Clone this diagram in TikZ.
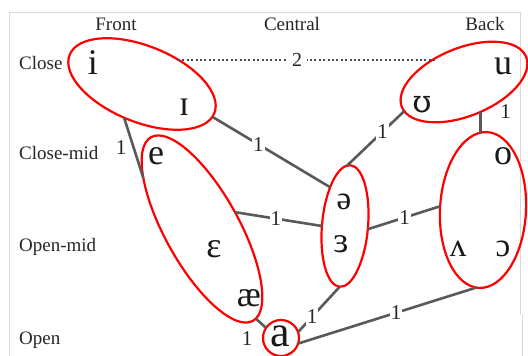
\documentclass[tikz,border=0pt]{standalone}
\usepackage{fontspec}
\setmainfont{Liberation Serif}
\newfontfamily\ipaalt{DejaVu Serif}
\usetikzlibrary{shapes.geometric}
\begin{document}
\begin{tikzpicture}[x=1pt,y=1pt,
  ring/.style={ellipse, draw=red, line width=2.2pt, inner sep=0pt, outer sep=0pt},
  link/.style={draw=black!65, line width=2.6pt},
  dotline/.style={draw=black!70, line width=2pt, dash pattern=on 2pt off 2.4pt},
  num/.style={font=\fontsize{21}{21}\selectfont, fill=white, inner sep=1pt, text=black!85},
  axislbl/.style={font=\fontsize{19}{19}\selectfont, text=black!85, inner sep=0pt},
  vow/.style={font=\fontsize{36}{36}\selectfont, inner sep=0pt, anchor=base, text=black!90},
  frame/.style={draw=black!15, line width=1pt},
]
\useasboundingbox (0,0) rectangle (528,356);
\fill[white] (0,0) rectangle (528,356);
% faint frame
\coordinate (f1) at (9,0);
\coordinate (f2) at (9,343);
\coordinate (f3) at (520,343);
\coordinate (f4) at (520,41);
\coordinate (f5) at (522,41);
\coordinate (f6) at (522,0);
\draw[frame] (f1) -- (f2) -- (f3) -- (f4);
\draw[frame] (f5) -- (f6);

% column and row labels
\node[axislbl, anchor=base] (front) at (116,325) {Front};
\node[axislbl, anchor=base] (central) at (292,325) {Central};
\node[axislbl, anchor=base] (back) at (485,325) {Back};
\node[axislbl, anchor=base west] (close) at (19,286) {Close};
\node[axislbl, anchor=base west] (closemid) at (19,196) {Close-mid};
\node[axislbl, anchor=base west] (openmid) at (19,104) {Open-mid};
\node[axislbl, anchor=base west] (open) at (19,11) {Open};

% groups
\node[ring, minimum width=156pt, minimum height=76pt, rotate=-22] (Ei) at (142,272) {};
\node[ring, minimum width=134pt, minimum height=68pt, rotate=22] (Eu) at (464,274) {};
\node[ring, minimum width=210pt, minimum height=74pt, rotate=-61] (Ee) at (202,127) {};
\node[ring, minimum width=46pt, minimum height=122pt, rotate=-5] (Ec) at (345,130) {};
\node[ring, minimum width=86pt, minimum height=156pt, rotate=-3] (Eb) at (483,146) {};
\node[ring, circle, minimum size=36pt] (Ea) at (281,18) {};

% connectors
\draw[link] (Ei.-96) -- node[num, pos=.5, left=5pt, fill=none] {1} (Ee.200);
\draw[link] (Ei.-3) -- node[num, pos=.39] {1} (Ec.116);
\draw[link] (Eu.184) -- node[num, pos=.38] {1} (Ec.93);
\draw[link] (Eu.-83) -- node[num, pos=0, xshift=25pt, fill=none] {1} (Eu.-83 |- Eb.95);
\draw[link] (Ee.88) -- node[num, pos=.47] {1} (Ec.185);
\draw[link] (Ec.-3) -- node[num, pos=.51] {1} (Eb.178);
\draw[link] (Ec.-90) -- node[num, pos=.66] {1} (Ea.19);
\draw[link] (Eb.-92) -- node[num, pos=.45] {1} (Ea.-18);
\draw[link] (Ee.2) -- node[num, pos=1, xshift=-19pt, yshift=-11pt, fill=none] {1} (Ea.146);
\draw[dotline] (Ei.56) -- node[num, pos=.46, font=\fontsize{20}{20}\selectfont, inner xsep=5pt] {2} (Ei.56 -| Eu.116);

% vowels
\node[vow] (vi) at (93,281) {i};
\node[vow] (vI) at (184,240) {ɪ};
\node[vow] (vu) at (503,281) {u};
\node[vow, font=\fontsize{31}{31}\selectfont\ipaalt] (vU) at (422,243) {ʊ};
\node[vow] (ve) at (156,191) {e};
\node[vow] (vE) at (214,98) {ɛ};
\node[vow] (vae) at (249,49) {æ};
\node[vow, font=\fontsize{33}{33}\selectfont] (vschwa) at (344,146) {ə};
\node[vow] (vrevE) at (341,103) {ɜ};
\node[vow] (vo) at (503,191) {o};
\node[vow, font=\fontsize{33}{33}\selectfont] (vV) at (458,99) {ʌ};
\node[vow, font=\fontsize{33}{33}\selectfont] (vO) at (503,99) {ɔ};
\node[vow, font=\fontsize{44}{44}\selectfont] (va) at (280,9) {a};
\end{tikzpicture}
\end{document}
